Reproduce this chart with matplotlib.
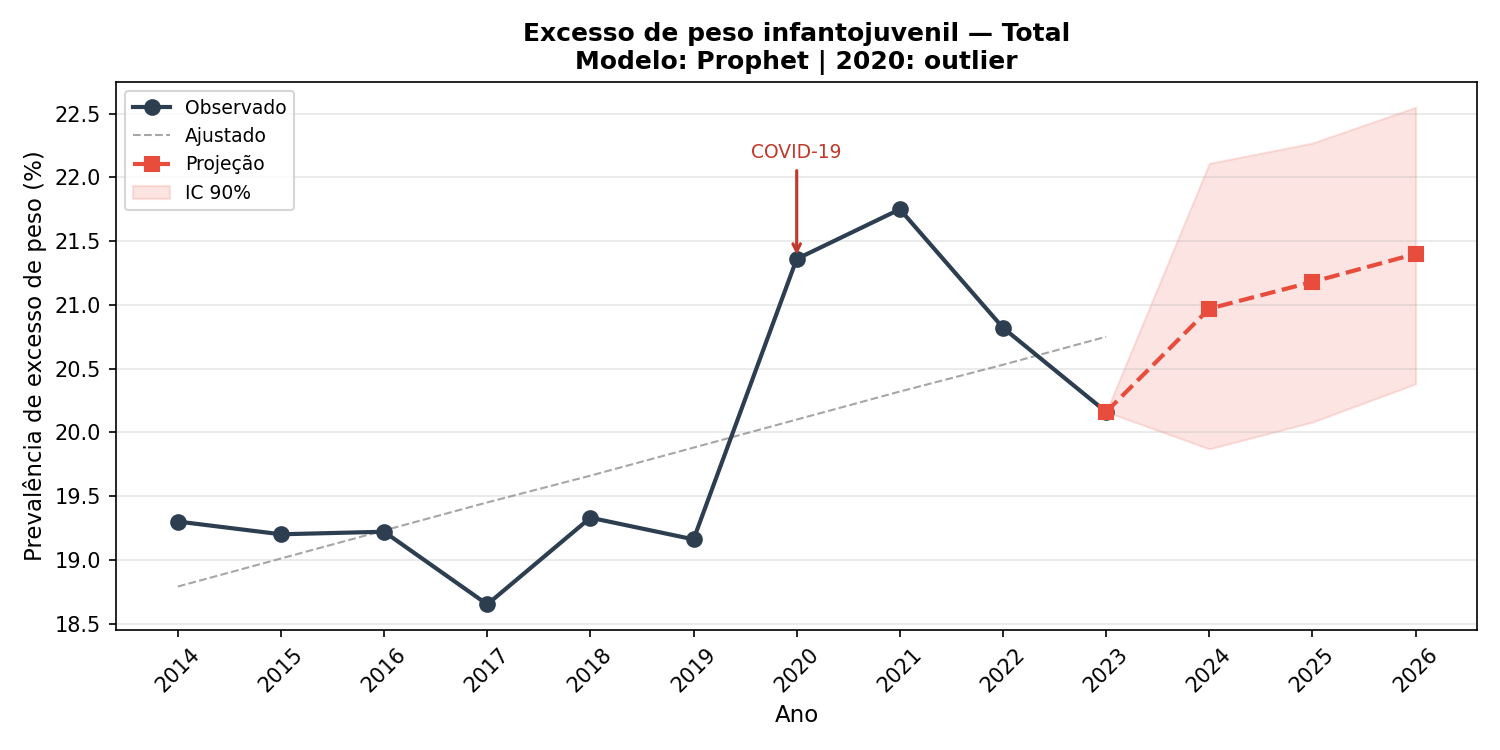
import matplotlib
matplotlib.use('Agg')
import matplotlib.pyplot as plt

# Dados
anos_obs = [2014, 2015, 2016, 2017, 2018, 2019, 2020, 2021, 2022, 2023]
observado = [19.30, 19.20, 19.22, 18.65, 19.33, 19.16, 21.36, 21.75, 20.82, 20.16]
ajustado = [18.79, 19.01, 19.23, 19.45, 19.66, 19.88, 20.10, 20.32, 20.53, 20.75]

anos_proj = [2023, 2024, 2025, 2026]
projecao = [20.16, 20.97, 21.18, 21.40]
ic_inf = [20.16, 19.87, 20.08, 20.38]
ic_sup = [20.16, 22.11, 22.27, 22.55]

cor_obs = '#2c3e50'
cor_proj = '#e74c3c'

fig, ax = plt.subplots(figsize=(10, 5), dpi=150)

ax.plot(anos_obs, observado, '-o', color=cor_obs, lw=2, ms=7, label='Observado', zorder=3)
ax.plot(anos_obs, ajustado, '--', color='gray', lw=1, alpha=0.7, label='Ajustado', zorder=2)
ax.plot(anos_proj, projecao, '--s', color=cor_proj, lw=2, ms=7, label='Projeção', zorder=4)
ax.fill_between(anos_proj, ic_inf, ic_sup, color=cor_proj, alpha=0.15, label='IC 90%')

ax.annotate('COVID-19', xy=(2020, observado[6]), xytext=(2020, 22.15),
            ha='center', fontsize=9, color='#c0392b',
            arrowprops=dict(arrowstyle='->', color='#c0392b', lw=1.5))

ax.set_xticks(anos_obs + anos_proj[1:])
ax.tick_params(axis='x', rotation=45)
ax.set_ylim(18.45, 22.75)
ax.grid(axis='y', alpha=0.3)
ax.set_xlabel('Ano', fontsize=11)
ax.set_ylabel('Prevalência de excesso de peso (%)', fontsize=11)
ax.set_title('Excesso de peso infantojuvenil — Total\nModelo: Prophet | 2020: outlier',
             fontweight='bold')
ax.legend(loc='upper left', fontsize=9)

plt.tight_layout()
fig.savefig('out.png')
